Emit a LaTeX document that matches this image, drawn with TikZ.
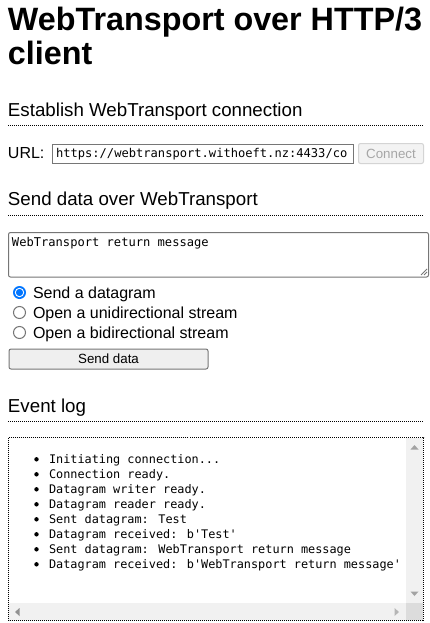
\documentclass[tikz,border=0pt]{standalone}
\usepackage{fontspec}
\setmainfont{Liberation Sans}
\newfontfamily\monofont{DejaVu Sans Mono}
\begin{document}
\begin{tikzpicture}[x=1pt,y=-1pt,
  txt/.style={inner sep=0pt,outer sep=0pt,anchor=base west},
  hthree/.style={txt,font=\fontsize{18.72}{22}\selectfont},
  normal/.style={txt,font=\fontsize{16}{19}\selectfont},
  mono/.style={txt,font=\monofont\fontsize{12.1}{15}\selectfont},
  logtxt/.style={txt,font=\monofont\fontsize{11.85}{15}\selectfont},
  rule/.style={line width=1pt,dash pattern=on 1pt off 1pt},
  field/.style={draw=fieldgray,line width=1pt,fill=white},
  radio/.style={draw=radiogray,line width=1pt,fill=white},
]
\definecolor{fieldgray}{HTML}{767676}
\definecolor{radiogray}{HTML}{767676}
\definecolor{btnfill}{HTML}{EFEFEF}
\definecolor{disfill}{HTML}{F3F3F3}
\definecolor{disborder}{HTML}{D4D4D4}
\definecolor{distext}{HTML}{A6A6A6}
\definecolor{accent}{HTML}{0075FF}
\definecolor{sbfill}{HTML}{F1F1F1}
\definecolor{sbcorner}{HTML}{DCDCDC}
\definecolor{sbarrow}{HTML}{A3A3A3}
\useasboundingbox[fill=white] (0,0) rectangle (429,623);

% Title
\node[txt,font=\bfseries\fontsize{32.3}{37}\selectfont] (title1) at (8,31) {WebTransport over HTTP/3};
\node[txt,font=\bfseries\fontsize{32.3}{37}\selectfont] (title2) at (8,65) {client};

% Section 1
\node[hthree] (h1) at (8,117) {Establish WebTransport connection};
\coordinate (r1a) at (8,125.5); \coordinate (r1b) at (424,125.5);
\draw[rule] (r1a) -- (r1b);
\node[normal] (urllabel) at (8,158) {URL:};
\node[field,minimum width=301pt,minimum height=19pt,inner sep=0pt,anchor=north west] (urlbox) at (51.5,143.5) {};
\node[mono] (urltext) at (56,157.5) {https://webtransport.withoeft.nz:4433/co};
\node[draw=disborder,fill=disfill,line width=1pt,rounded corners=2pt,minimum width=65pt,minimum height=20pt,inner sep=0pt,anchor=north west,text=distext,font=\fontsize{13.33}{16}\selectfont] (connect) at (358,143) {Connect};

% Section 2
\node[hthree] (h2) at (8,205) {Send data over WebTransport};
\coordinate (r2a) at (8,215.5); \coordinate (r2b) at (424,215.5);
\draw[rule] (r2a) -- (r2b);
\draw[field,rounded corners=2pt] (8.5,232.5) rectangle (428.5,277);
\node[mono] (tatext) at (12,246.5) {WebTransport return message};
\coordinate (hz1) at (421,275); \coordinate (hz2) at (427,269);
\coordinate (hz3) at (424,275); \coordinate (hz4) at (427,272);
\draw[fieldgray,line width=0.8pt] (hz1) -- (hz2) (hz3) -- (hz4);

% radios
\node[circle,fill=accent,minimum size=13pt,inner sep=0pt] (rad1) at (19.5,292.5) {};
\node[circle,fill=white,minimum size=9.4pt,inner sep=0pt] (rad1w) at (rad1.center) {};
\node[circle,fill=accent,minimum size=7.2pt,inner sep=0pt] (rad1d) at (rad1.center) {};
\node[circle,radio,minimum size=12pt,inner sep=0pt] (rad2) at (19.5,312.5) {};
\node[circle,radio,minimum size=12pt,inner sep=0pt] (rad3) at (19.5,332.5) {};
\node[normal] (l1) at (33,298) {Send a datagram};
\node[normal] (l2) at (33,318) {Open a unidirectional stream};
\node[normal] (l3) at (33,338) {Open a bidirectional stream};

\node[draw=fieldgray,fill=btnfill,line width=1pt,rounded corners=2pt,minimum width=199pt,minimum height=20pt,inner sep=0pt,anchor=north west,font=\fontsize{13.33}{16}\selectfont] (send) at (8.5,348.5) {Send data};

% Section 3
\node[hthree] (h3) at (8,412) {Event log};
\coordinate (r3a) at (8,421.5); \coordinate (r3b) at (424,421.5);
\draw[rule] (r3a) -- (r3b);

% log box
\fill[sbfill] (406,438) rectangle (423,603);
\fill[sbfill] (9,603) rectangle (406,620);
\fill[sbcorner] (406,603) rectangle (423,620);
\draw[rule] (8.5,437.5) rectangle (423.5,620.5);
\coordinate (ua) at (410.5,449.5); \coordinate (ub) at (418.5,449.5); \coordinate (uc) at (414.5,445);
\fill[sbarrow] (ua) -- (ub) -- (uc) -- cycle;
\coordinate (da) at (410.5,591.5); \coordinate (db) at (418.5,591.5); \coordinate (dc) at (414.5,596);
\fill[sbarrow] (da) -- (db) -- (dc) -- cycle;
\coordinate (la) at (19.5,608); \coordinate (lb) at (19.5,616); \coordinate (lc) at (15,612);
\fill[sbarrow!120] (la) -- (lb) -- (lc) -- cycle;
\coordinate (ra) at (394.5,608); \coordinate (rb) at (394.5,616); \coordinate (rc) at (399,612);
\fill[sbarrow!80!white] (ra) -- (rb) -- (rc) -- cycle;

\foreach \i/\t in {0/{Initiating connection...},1/{Connection ready.},2/{Datagram writer ready.},3/{Datagram reader ready.},4/{Sent datagram: Test},5/{Datagram received: b'Test'},6/{Sent datagram: WebTransport return message},7/{Datagram received: b'WebTransport return message'}}{
  \node[circle,fill=black,minimum size=4.4pt,inner sep=0pt] (b\i) at (36.5,{459.3+15*\i}) {};
  \node[logtxt] (log\i) at (49,{463.3+15*\i}) {\t};
}
\end{tikzpicture}
\end{document}
